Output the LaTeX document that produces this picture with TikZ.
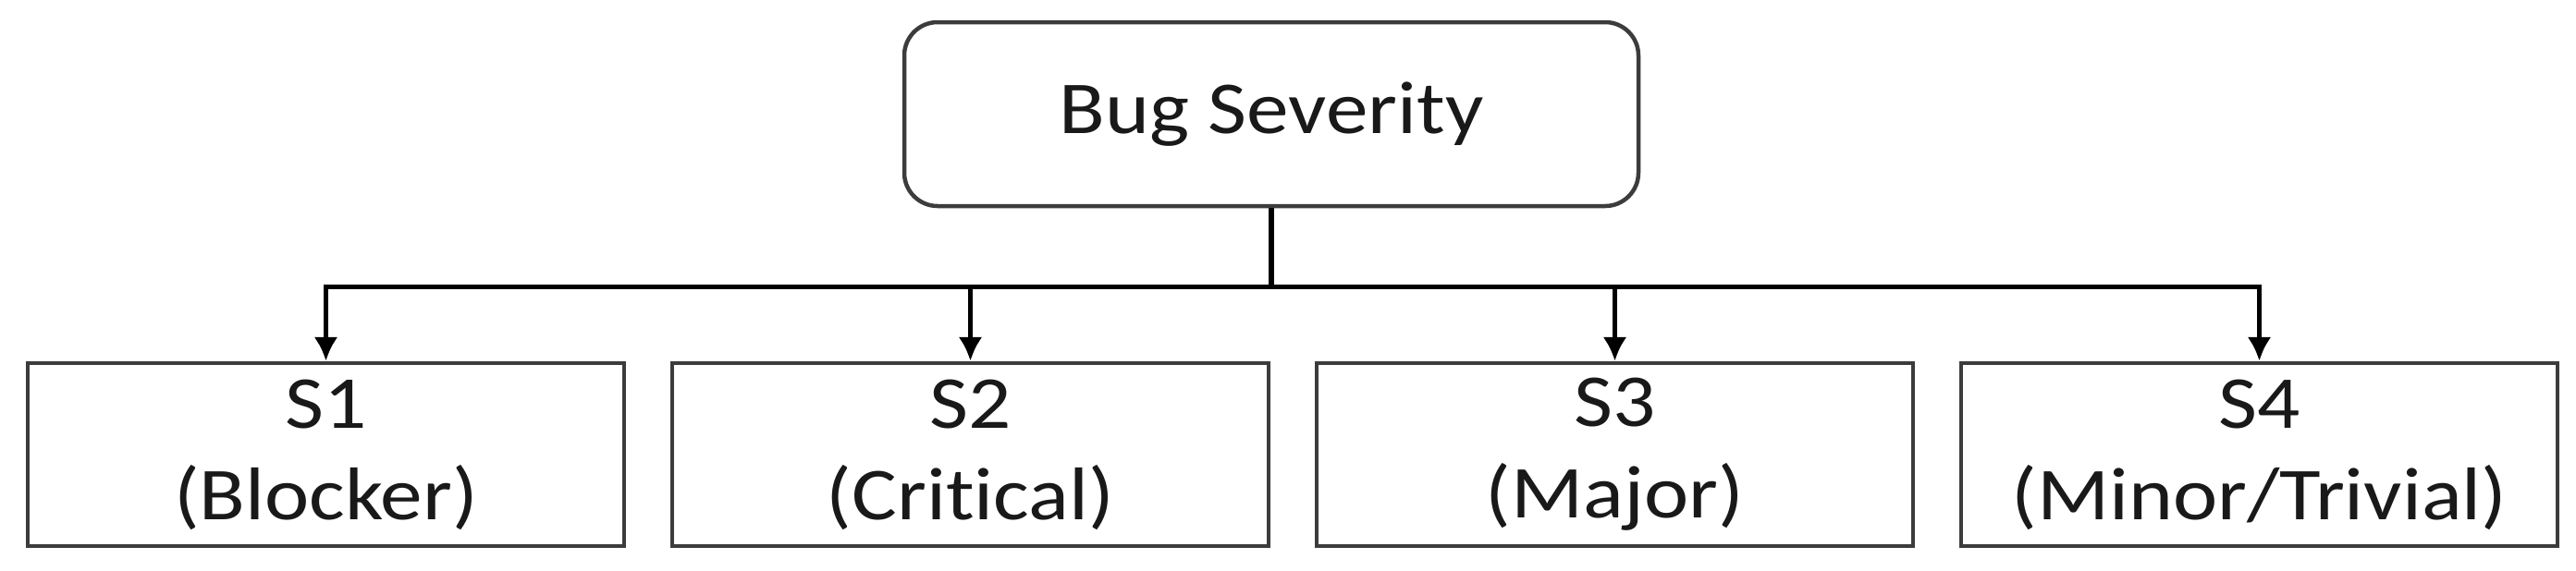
\documentclass[tikz,border=0pt]{standalone}
\usepackage{fontspec}
\setmainfont{Carlito}[FakeStretch=1.13, Ligatures=NoCommon]
\usetikzlibrary{arrows.meta}
\definecolor{boxgray}{RGB}{60,60,60}
\definecolor{inkgray}{RGB}{25,25,25}

\begin{document}
\begin{tikzpicture}[
    x=1mm, y=1mm,
    level distance=36.85mm,
    level 1/.style={sibling distance=69.7mm},
    every node/.style={draw=boxgray, line width=0.45mm, fill=white, text=inkgray, font=\fontsize{23}{28.2}\selectfont, inner sep=0pt},
    root/.style={rounded corners=3.6mm, minimum width=79.4mm, minimum height=19.9mm},
    every child node/.style={xshift=2.3mm, align=center, minimum width=64.5mm, minimum height=19.8mm},
    edge from parent/.style={draw, black, line width=0.55mm, -{Latex[length=2.6mm,width=2.6mm]}},
    edge from parent path={(\tikzparentnode.south) -- ++(0,-8.5mm) -| (\tikzchildnode.north)}
    ]
    \useasboundingbox (0,0) rectangle (278.6,-61.7);
    \node[root] (severity) at (137.5,-12.35) {Bug Severity}
      child {node (blocker) {S1\\(Blocker)}}
      child {node (critical) {S2\\(Critical)}}
      child {node (major) {S3\\(Major)}}
      child {node (minor) {S4\\(Minor/Trivial)}};
\end{tikzpicture}
\end{document}
